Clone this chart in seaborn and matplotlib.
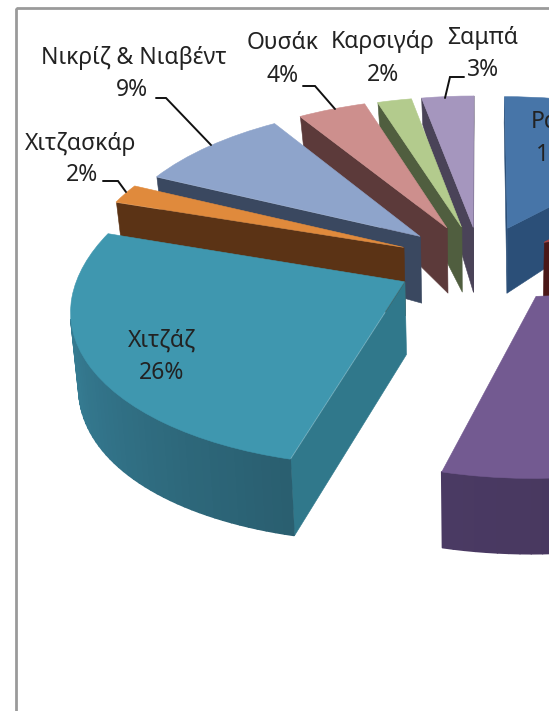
import numpy as np
import matplotlib
matplotlib.use("Agg")
import matplotlib.pyplot as plt
import seaborn as sns
from matplotlib.transforms import Transform
from matplotlib.collections import PolyCollection
from matplotlib.patches import Rectangle

# ---- data ----
# Slices run clockwise from 12 o'clock; the three slices cut off by the right
# edge of the picture carry no readable label.
categories = ["Ρα", "", "", "", "Χιτζάζ", "Χιτζασκάρ",
              "Νικρίζ & Νιαβέντ", "Ουσάκ", "Καρσιγάρ", "Σαμπά"]
values = [12, 8, 4, 30, 26, 2, 9, 4, 2, 3]

# ---- styles ----
top_colors = ["#4775A8", "#AE4441", "#8FB050", "#735A91", "#3F97AF",
              "#E08A3C", "#8EA4CB", "#CD8F8D", "#B3CB8D", "#A596BE"]
side_colors = ["#2B4F78", "#4B1818", "#46562A", "#423252", "#30788B",
               "#5B3315", "#3A4860", "#5C3A3A", "#505E3F", "#4A4358"]
rim_blends = {4: ["#3F8DA4", "#33768C", "#2A5F70"], 3: ["#4A3A63", "#403050"]}
explode = [0.24, 0.24, 0.24, 0.28, 0.26, 0.26, 0.255, 0.25, 0.24, 0.23]
radii = [1, 1, 1, 0.98, 1.01, 1, 0.985, 0.985, 0.99, 1.0]
paint_order = [9, 8, 7, 0, 6, 5, 1, 2, 4, 3]

CX, CY, SX, SY, PERSP, SHEAR = 480, 262, 320, 155, 0.12, 12


def project(x, y, d=0.0):
    x, y = np.asarray(x, float), np.asarray(y, float)
    w = 1 + PERSP * y
    px = CX + SX * x / w + SHEAR * np.minimum(y, 0)
    py = CY - SY * y / w
    px = CX + (px - CX) * (1 - 0.02 * d)
    py = py + d * (70 - 20 * y - 13 * y ** 2)
    return np.column_stack([px, py])


class PieProjection(Transform):
    input_dims = output_dims = 2
    is_separable = False
    has_inverse = False

    def transform_non_affine(self, values):
        v = np.asarray(values)
        return project(v[:, 0], v[:, 1])


def quad(a, b):
    """Side quad under the edge a->b; None when it faces away."""
    t = project([a[0], b[0]], [a[1], b[1]], 0.0)
    u = project([a[0], b[0]], [a[1], b[1]], 1.0)
    q = np.array([t[0], t[1], u[1], u[0]])
    xs, ys = q[:, 0], q[:, 1]
    area = 0.5 * np.sum(xs * np.roll(ys, -1) - np.roll(xs, -1) * ys)
    return q if area > 0 else None


sns.set_theme(style="white")
plt.rcParams["font.family"] = ["Noto Sans", "DejaVu Sans"]

fig = plt.figure(figsize=(5.49, 7.11), dpi=100, facecolor="white")
ax = fig.add_axes([0, 0, 1, 1])
wedges, _ = ax.pie(values, colors=top_colors, explode=explode, startangle=90,
                   counterclock=False)
ax.set_aspect("auto")
ax.set_xlim(0, 549)
ax.set_ylim(711, 0)
ax.axis("off")

proj = PieProjection() + ax.transData
for i, w in enumerate(wedges):
    z = (paint_order.index(i) + 1) * 10
    w.set_radius(radii[i])
    w.set_transform(proj)
    w.set_zorder(z + 2)
    w.set_edgecolor(top_colors[i])
    w.set_linewidth(0.4)
    c = np.array(w.center, float)
    r = w.r
    t1, t2 = np.radians(w.theta1), np.radians(w.theta2)
    p1 = c + r * np.array([np.cos(t1), np.sin(t1)])
    p2 = c + r * np.array([np.cos(t2), np.sin(t2)])
    polys = [q for q in (quad(c, p1), quad(p2, c)) if q is not None]
    ax.add_collection(PolyCollection(polys, facecolors=side_colors[i],
                                     edgecolors=side_colors[i], linewidths=0.4,
                                     zorder=z))
    th = np.linspace(t1, t2, 61)
    arc = np.column_stack([c[0] + r * np.cos(th), c[1] + r * np.sin(th)])
    if i in rim_blends:
        cols = sns.blend_palette(rim_blends[i], 60)
    else:
        cols = [side_colors[i]] * 60
    rim, rim_cols = [], []
    for k in range(60):
        q = quad(arc[k], arc[k + 1])
        if q is not None:
            rim.append(q)
            rim_cols.append(cols[k])
    if rim:
        ax.add_collection(PolyCollection(rim, facecolors=rim_cols, edgecolors=rim_cols,
                                         linewidths=1.2, zorder=z + 1))

# ---- labels ----
FS = 16.5
TXT = "#222222"
name_pos = {4: (162, 341), 5: (81, 144), 6: (134, 58), 7: (283, 43), 8: (383, 42), 9: (483, 38)}
pct_pos = {4: (162, 373), 5: (82, 175), 6: (132, 90), 7: (283, 76), 8: (383, 75), 9: (483, 70)}
for i, (x, y) in name_pos.items():
    ax.text(x, y, categories[i], ha="center", va="center", fontsize=FS, color=TXT, zorder=500)
for i, (x, y) in pct_pos.items():
    ax.text(x, y, f"{values[i]}%", ha="center", va="center", fontsize=FS, color=TXT, zorder=500)
ax.text(531, 122, categories[0], ha="left", va="center", fontsize=FS, color=TXT, zorder=500)
ax.text(536, 155, str(values[0])[0], ha="left", va="center", fontsize=FS, color=TXT, zorder=500)

leaders = [([156, 166, 211], [98, 98, 145]),
           ([103, 118, 126], [181, 181, 192]),
           ([303, 315, 335], [86, 86, 109]),
           ([464, 450, 445], [77, 77, 98])]
for xs, ys in leaders:
    ax.plot(xs, ys, color="#111111", lw=1.4, zorder=400, solid_joinstyle="miter")

ax.add_patch(Rectangle((16, 8), 600, 800, fill=False, edgecolor="#9A9A9A", lw=2, zorder=1))

fig.savefig("out.png", dpi=100, facecolor="white")
